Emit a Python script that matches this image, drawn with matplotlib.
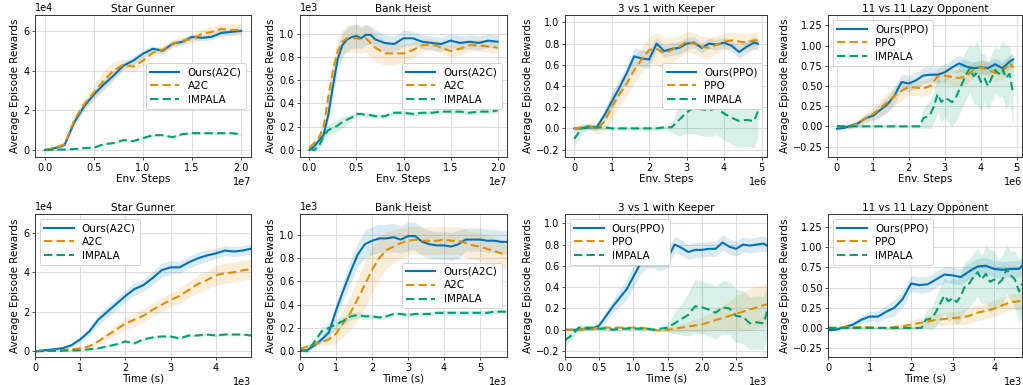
import numpy as np
import matplotlib.pyplot as plt
from matplotlib.ticker import MultipleLocator

# colours (seaborn colorblind)
C_OURS = '#0173b2'
C_BASE = '#de8f05'
C_IMP = '#029e73'

# ---------------- Row 1: Env. steps ----------------
# Star Gunner (x in 1e7, y in 1e4)
sg_x = [0, .1, .2, .3, .4, .5, .6, .7, .8, .9, 1.0, 1.1, 1.2, 1.3, 1.4, 1.5, 1.6, 1.7, 1.8, 1.9, 2.0]
sg_ours = [0.0, 0.1, 0.25, 1.4, 2.2, 2.8, 3.3, 3.75, 4.25, 4.5, 4.85, 5.1, 5.0, 5.35, 5.45, 5.7, 5.65, 5.7, 5.9, 5.95, 6.0]
sg_ours_sd = [.05, .05, .1, .15, .2, .2, .25, .2, .2, .2, .2, .15, .15, .15, .15, .15, .15, .15, .15, .15, .15]
sg_a2c = [0.0, 0.1, 0.3, 1.5, 2.3, 2.9, 3.5, 4.0, 4.3, 4.2, 4.5, 4.9, 5.05, 5.35, 5.5, 5.6, 5.85, 5.95, 6.1, 6.05, 6.05]
sg_a2c_sd = [.05, .05, .1, .2, .3, .4, .5, .45, .3, .3, .25, .2, .2, .2, .2, .2, .25, .25, .3, .3, .3]
sg_imp = [0, 0.02, 0.03, 0.05, 0.1, 0.12, 0.3, 0.35, 0.5, 0.45, 0.6, 0.75, 0.75, 0.65, 0.8, 0.85, 0.85, 0.85, 0.85, 0.85, 0.8]
sg_imp_sd = [.03, .03, .03, .03, .04, .04, .05, .05, .06, .06, .06, .06, .06, .06, .06, .06, .06, .06, .06, .06, .06]

# Bank Heist (x in 1e7, y in 1e3)
bh_x = [0, .05, .1, .15, .2, .25, .3, .35, .4, .45, .5, .55, .6, .65, .7, .8, .9, 1.0, 1.1, 1.2, 1.3, 1.4, 1.5, 1.6, 1.7, 1.8, 1.9, 2.0]
bh_ours = [0.0, 0.03, 0.08, 0.13, 0.3, 0.55, 0.78, 0.9, 0.95, 0.97, 0.98, 0.96, 0.99, 0.99, 0.95, 0.92, 0.91, 0.96, 0.96, 0.93, 0.92, 0.91, 0.94, 0.92, 0.93, 0.92, 0.94, 0.93]
bh_ours_sd = [.01, .02, .03, .04, .06, .08, .1, .1, .1, .1, .1, .09, .09, .08, .08, .07, .07, .07, .06, .06, .06, .06, .06, .06, .06, .06, .06, .06]
bh_a2c = [0.02, 0.06, 0.1, 0.2, 0.45, 0.68, 0.85, 0.93, 0.96, 0.96, 0.96, 0.95, 0.96, 0.92, 0.88, 0.83, 0.83, 0.83, 0.86, 0.9, 0.91, 0.88, 0.85, 0.87, 0.9, 0.9, 0.89, 0.88]
bh_a2c_sd = [.01, .02, .04, .06, .08, .1, .1, .1, .12, .12, .12, .12, .12, .12, .12, .1, .1, .08, .07, .06, .05, .05, .05, .05, .05, .05, .05, .05]
bh_imp = [0.01, 0.0, 0.03, 0.12, 0.17, 0.19, 0.21, 0.24, 0.26, 0.28, 0.31, 0.31, 0.3, 0.3, 0.29, 0.29, 0.32, 0.32, 0.31, 0.32, 0.32, 0.33, 0.33, 0.33, 0.32, 0.33, 0.33, 0.34]
bh_imp_sd = [.01, .02, .03, .04, .05, .05, .05, .05, .04, .03, .02, .02, .02, .02, .02, .02, .02, .02, .02, .02, .02, .02, .02, .02, .02, .02, .02, .02]

# 3 vs 1 with Keeper (x in 1e6)
k3_x = [0, .2, .4, .6, .8, 1.0, 1.2, 1.4, 1.6, 1.8, 2.0, 2.2, 2.4, 2.6, 2.8, 3.0, 3.2, 3.4, 3.6, 3.8, 4.0, 4.2, 4.4, 4.6, 4.8, 4.9]
k3_ours = [0.0, 0.0, 0.01, 0.01, 0.12, 0.25, 0.38, 0.52, 0.68, 0.66, 0.65, 0.8, 0.73, 0.75, 0.76, 0.8, 0.81, 0.76, 0.8, 0.79, 0.81, 0.78, 0.72, 0.77, 0.81, 0.8]
k3_ours_sd = [.01, .01, .02, .03, .06, .08, .08, .08, .08, .08, .08, .06, .06, .06, .06, .06, .05, .05, .05, .05, .05, .05, .06, .06, .06, .06]
k3_ppo = [0.0, 0.01, 0.02, 0.0, 0.06, 0.2, 0.32, 0.42, 0.55, 0.65, 0.74, 0.75, 0.71, 0.74, 0.77, 0.82, 0.8, 0.77, 0.76, 0.79, 0.82, 0.83, 0.82, 0.81, 0.83, 0.83]
k3_ppo_sd = [.02, .03, .03, .05, .1, .12, .12, .12, .12, .12, .12, .15, .15, .12, .1, .1, .1, .1, .1, .08, .08, .08, .08, .08, .08, .08]
k3_imp = [-0.1, 0.0, 0.02, 0.01, 0.01, 0.0, 0.0, 0.0, 0.0, 0.0, 0.0, 0.0, 0.01, 0.01, 0.08, 0.15, 0.2, 0.18, 0.17, 0.19, 0.14, 0.1, 0.07, 0.08, 0.07, 0.16]
k3_imp_sd = [.08, .04, .03, .02, .02, .02, .02, .02, .02, .02, .02, .02, .02, .05, .15, .2, .25, .25, .25, .25, .25, .25, .25, .25, .25, .25]

# 11 vs 11 Lazy Opponent (x in 1e6)
lz_x = [0, .2, .4, .6, .8, 1.0, 1.2, 1.4, 1.6, 1.8, 2.0, 2.2, 2.4, 2.6, 2.8, 3.0, 3.2, 3.4, 3.6, 3.8, 4.0, 4.2, 4.4, 4.6, 4.8, 4.9]
lz_ours = [-0.03, -0.02, 0.01, 0.04, 0.1, 0.13, 0.2, 0.27, 0.38, 0.55, 0.53, 0.57, 0.63, 0.64, 0.64, 0.67, 0.73, 0.78, 0.74, 0.72, 0.73, 0.72, 0.77, 0.72, 0.8, 0.83]
lz_ours_sd = [.02, .02, .03, .04, .05, .06, .08, .1, .1, .1, .1, .1, .1, .1, .1, .1, .1, .1, .08, .08, .08, .08, .08, .08, .08, .08]
lz_ppo = [0.0, 0.0, 0.0, 0.04, 0.1, 0.15, 0.22, 0.3, 0.38, 0.44, 0.49, 0.48, 0.47, 0.5, 0.62, 0.63, 0.61, 0.6, 0.62, 0.7, 0.73, 0.7, 0.66, 0.68, 0.78, 0.73]
lz_ppo_sd = [.02, .02, .03, .04, .06, .08, .1, .12, .12, .12, .1, .1, .1, .1, .1, .1, .1, .1, .1, .1, .1, .1, .1, .1, .1, .1]
lz_imp_x = [0, 2.3, 2.4, 2.5, 2.6, 2.7, 2.8, 2.9, 3.0, 3.1, 3.2, 3.3, 3.4, 3.5, 3.6, 3.7, 3.8, 3.9, 4.0, 4.1, 4.2, 4.3, 4.4, 4.5, 4.6, 4.7, 4.8, 4.9]
lz_imp = [0.0, 0.0, 0.1, 0.12, 0.15, 0.25, 0.4, 0.3, 0.35, 0.33, 0.3, 0.35, 0.45, 0.55, 0.65, 0.72, 0.62, 0.67, 0.55, 0.6, 0.5, 0.6, 0.7, 0.65, 0.72, 0.6, 0.65, 0.4]
lz_imp_sd = [.02, .02, .12, .15, .18, .2, .22, .25, .25, .28, .3, .3, .3, .3, .3, .3, .35, .4, .35, .3, .3, .3, .3, .3, .35, .4, .35, .4]

# ---------------- Row 2: wall-clock time (x in 1e3 s) ----------------
sgt_x = [0, .2, .4, .6, .8, 1.0, 1.2, 1.4, 1.6, 1.8, 2.0, 2.2, 2.4, 2.6, 2.8, 3.0, 3.2, 3.4, 3.6, 3.8, 4.0, 4.2, 4.4, 4.6, 4.78]
sgt_ours = [0.0, 0.05, 0.1, 0.15, 0.3, 0.6, 1.0, 1.6, 2.0, 2.4, 2.8, 3.15, 3.35, 3.7, 4.1, 4.25, 4.25, 4.5, 4.7, 4.85, 4.95, 5.1, 5.05, 5.1, 5.2]
sgt_ours_sd = [.02, .03, .05, .05, .1, .15, .2, .25, .3, .3, .3, .3, .3, .35, .35, .35, .3, .3, .3, .3, .25, .25, .25, .25, .25]
sgt_a2c = [0, 0.02, 0.04, 0.06, 0.1, 0.15, 0.25, 0.5, 0.8, 1.1, 1.4, 1.6, 1.8, 2.1, 2.35, 2.6, 2.8, 3.1, 3.4, 3.6, 3.85, 3.95, 4.0, 4.1, 4.15]
sgt_a2c_sd = [.02, .02, .03, .03, .05, .07, .1, .15, .2, .25, .3, .35, .35, .35, .35, .35, .4, .4, .45, .45, .5, .5, .5, .5, .5]
sgt_imp = [0, 0.01, 0.02, 0.03, 0.04, 0.05, 0.1, 0.15, 0.25, 0.35, 0.5, 0.4, 0.6, 0.7, 0.75, 0.75, 0.65, 0.8, 0.8, 0.85, 0.8, 0.85, 0.85, 0.85, 0.8]
sgt_imp_sd = [.03, .03, .03, .03, .03, .03, .04, .04, .05, .05, .06, .06, .06, .06, .06, .06, .06, .06, .06, .06, .06, .06, .06, .06, .06]

bht_x = [0, .2, .4, .6, .8, 1.0, 1.2, 1.4, 1.6, 1.8, 2.0, 2.2, 2.4, 2.6, 2.8, 3.0, 3.2, 3.4, 3.6, 3.8, 4.0, 4.2, 4.4, 4.6, 4.8, 5.0, 5.2, 5.4, 5.6, 5.75]
bht_ours = [0.0, 0.01, 0.05, 0.1, 0.16, 0.35, 0.52, 0.68, 0.83, 0.92, 0.95, 0.97, 0.97, 0.98, 0.96, 0.99, 0.99, 0.94, 0.92, 0.91, 0.91, 0.9, 0.92, 0.96, 0.96, 0.96, 0.95, 0.95, 0.94, 0.94]
bht_ours_sd = [.01, .01, .02, .03, .05, .06, .08, .1, .1, .12, .12, .12, .12, .12, .12, .12, .12, .12, .12, .12, .12, .12, .12, .1, .1, .1, .1, .1, .1, .1]
bht_a2c = [0.02, 0.04, 0.06, 0.08, 0.1, 0.15, 0.24, 0.33, 0.45, 0.57, 0.7, 0.8, 0.87, 0.9, 0.93, 0.95, 0.96, 0.95, 0.95, 0.95, 0.96, 0.95, 0.95, 0.93, 0.91, 0.9, 0.88, 0.86, 0.84, 0.83]
bht_a2c_sd = [.01, .02, .02, .03, .05, .08, .12, .15, .18, .2, .2, .18, .16, .14, .13, .12, .12, .12, .12, .12, .12, .12, .12, .12, .12, .12, .12, .12, .12, .12]
bht_imp = [0.01, 0.0, 0.08, 0.17, 0.2, 0.23, 0.26, 0.3, 0.31, 0.3, 0.3, 0.29, 0.3, 0.32, 0.32, 0.31, 0.32, 0.32, 0.32, 0.33, 0.33, 0.33, 0.33, 0.33, 0.33, 0.33, 0.33, 0.34, 0.34, 0.34]
bht_imp_sd = [.01, .02, .03, .04, .05, .05, .04, .03, .03, .03, .02, .02, .02, .02, .02, .02, .02, .02, .02, .02, .02, .02, .02, .02, .02, .02, .02, .02, .02, .02]

k3t_x = [0, .1, .2, .3, .4, .5, .6, .7, .8, .9, 1.0, 1.1, 1.2, 1.3, 1.4, 1.5, 1.6, 1.7, 1.8, 1.9, 2.0, 2.1, 2.2, 2.3, 2.4, 2.5, 2.6, 2.7, 2.8, 2.9, 2.95]
k3t_ours = [0.0, 0.0, 0.0, 0.01, 0.01, 0.04, 0.13, 0.22, 0.3, 0.38, 0.5, 0.62, 0.68, 0.68, 0.63, 0.67, 0.8, 0.77, 0.73, 0.75, 0.75, 0.76, 0.76, 0.82, 0.78, 0.76, 0.8, 0.79, 0.8, 0.81, 0.79]
k3t_ours_sd = [.01, .01, .02, .02, .02, .03, .05, .06, .08, .1, .1, .1, .1, .1, .08, .08, .08, .07, .07, .07, .07, .07, .07, .07, .07, .07, .07, .07, .07, .07, .07]
k3t_ppo = [0.0, 0.0, 0.0, 0.01, 0.01, 0.02, 0.02, 0.02, 0.02, 0.02, 0.02, 0.02, 0.01, 0.0, -0.01, 0.0, 0.01, 0.02, 0.03, 0.04, 0.05, 0.07, 0.09, 0.11, 0.13, 0.15, 0.17, 0.19, 0.21, 0.23, 0.24]
k3t_ppo_sd = [.01, .01, .01, .01, .01, .01, .01, .01, .01, .01, .01, .01, .01, .01, .01, .02, .03, .04, .05, .06, .07, .08, .1, .12, .14, .16, .18, .2, .2, .2, .2]
k3t_imp = [-0.1, -0.05, 0.02, 0.02, 0.02, 0.01, 0.01, 0.0, 0.01, 0.01, 0.01, 0.01, 0.01, 0.0, 0.01, 0.02, 0.06, 0.1, 0.14, 0.22, 0.21, 0.19, 0.16, 0.21, 0.2, 0.13, 0.12, 0.06, 0.07, 0.06, 0.17]
k3t_imp_sd = [.06, .04, .02, .02, .02, .02, .02, .02, .02, .02, .02, .02, .02, .02, .02, .04, .1, .15, .2, .25, .25, .25, .25, .25, .25, .25, .25, .25, .25, .25, .25]

lzt_x = [0, .2, .4, .6, .8, 1.0, 1.2, 1.4, 1.6, 1.8, 2.0, 2.2, 2.4, 2.6, 2.8, 3.0, 3.2, 3.4, 3.6, 3.8, 4.0, 4.2, 4.4, 4.6, 4.67]
lzt_ours = [-0.03, -0.02, 0.01, 0.04, 0.1, 0.14, 0.14, 0.2, 0.25, 0.36, 0.55, 0.53, 0.54, 0.6, 0.66, 0.65, 0.63, 0.7, 0.76, 0.77, 0.73, 0.72, 0.73, 0.73, 0.77]
lzt_ours_sd = [.02, .02, .03, .04, .05, .06, .07, .08, .1, .1, .1, .1, .1, .1, .1, .1, .1, .1, .1, .1, .1, .1, .1, .1, .1]
lzt_ppo = [0.0, 0.0, 0.01, 0.01, 0.01, 0.01, 0.0, 0.0, 0.01, 0.02, 0.04, 0.06, 0.08, 0.1, 0.11, 0.12, 0.13, 0.15, 0.19, 0.21, 0.24, 0.28, 0.32, 0.33, 0.33]
lzt_ppo_sd = [.01, .01, .01, .01, .01, .01, .01, .02, .03, .04, .05, .06, .07, .08, .08, .08, .09, .1, .1, .1, .1, .1, .1, .1, .1]
lzt_imp_x = [0, 2.25, 2.35, 2.5, 2.6, 2.7, 2.8, 2.9, 3.0, 3.1, 3.2, 3.3, 3.4, 3.5, 3.6, 3.7, 3.8, 3.9, 4.0, 4.1, 4.2, 4.3, 4.4, 4.5, 4.6, 4.67]
lzt_imp = [0.0, 0.0, 0.1, 0.12, 0.2, 0.3, 0.4, 0.33, 0.37, 0.32, 0.4, 0.52, 0.55, 0.63, 0.69, 0.6, 0.67, 0.57, 0.6, 0.55, 0.6, 0.73, 0.65, 0.6, 0.45, 0.55]
lzt_imp_sd = [.02, .02, .1, .15, .18, .2, .22, .25, .25, .28, .3, .3, .3, .3, .3, .3, .35, .4, .35, .3, .3, .3, .3, .35, .4, .4]


def curve(ax, x, y, sd, xs, ys, color, ls, label):
    x = np.array(x) * xs
    y = np.array(y) * ys
    sd = np.array(sd) * ys
    ax.fill_between(x, y - sd, y + sd, color=color, alpha=0.15, lw=0)
    if ls == '--':
        ax.plot(x, y, color=color, lw=1.5, label=label, dashes=(4, 2))
    else:
        ax.plot(x, y, color=color, lw=1.5, label=label)


def style(ax, title, xlabel):
    ax.set_title(title, fontsize=7.5, pad=2)
    ax.set_xlabel(xlabel, fontsize=7.5, labelpad=1)
    ax.set_ylabel('Average Episode Rewards', fontsize=7.5, labelpad=2)
    ax.grid(True, color='#dddddd', lw=0.8)
    ax.set_axisbelow(True)
    ax.tick_params(labelsize=7, length=2.5, width=0.6, pad=1.5, color='0.2')
    ax.ticklabel_format(style='sci', scilimits=(0, 0), useMathText=False)
    ax.xaxis.get_offset_text().set_fontsize(7)
    ax.yaxis.get_offset_text().set_fontsize(7)
    for s in ax.spines.values():
        s.set_color('0.2')
        s.set_linewidth(0.7)


fig = plt.figure(figsize=(10.23, 3.85), dpi=100)
W, H = 1023.0, 385.0
cols = [(35, 251), (300, 507), (565, 767), (828, 1022)]
rows = [(15, 157), (214, 357)]

def mk(r, c):
    (l, rr), (t, b) = cols[c], rows[r]
    return fig.add_axes([l / W, 1 - b / H, (rr - l) / W, (b - t) / H])

panels = [
    (0, 0, 'Star Gunner', 'Env. Steps', sg_x, None, 1e7, 1e4, 'A2C',
     (sg_ours, sg_ours_sd), (sg_a2c, sg_a2c_sd), (sg_imp, sg_imp_sd), 'center right', (-0.35, 6.8), None),
    (0, 1, 'Bank Heist', 'Env. Steps', bh_x, None, 1e7, 1e3, 'A2C',
     (bh_ours, bh_ours_sd), (bh_a2c, bh_a2c_sd), (bh_imp, bh_imp_sd), 'center right', (-0.06, 1.16), None),
    (0, 2, '3 vs 1 with Keeper', 'Env. Steps', k3_x, None, 1e6, 1, 'PPO',
     (k3_ours, k3_ours_sd), (k3_ppo, k3_ppo_sd), (k3_imp, k3_imp_sd), 'center right', (-0.27, 1.07), None),
    (0, 3, '11 vs 11 Lazy Opponent', 'Env. Steps', lz_x, lz_imp_x, 1e6, 1, 'PPO',
     (lz_ours, lz_ours_sd), (lz_ppo, lz_ppo_sd), (lz_imp, lz_imp_sd), 'upper left', (-0.38, 1.38), None),
    (1, 0, 'Star Gunner', 'Time (s)', sgt_x, None, 1e3, 1e4, 'A2C',
     (sgt_ours, sgt_ours_sd), (sgt_a2c, sgt_a2c_sd), (sgt_imp, sgt_imp_sd), 'upper left', (-0.29, 6.95), 4.78),
    (1, 1, 'Bank Heist', 'Time (s)', bht_x, None, 1e3, 1e3, 'A2C',
     (bht_ours, bht_ours_sd), (bht_a2c, bht_a2c_sd), (bht_imp, bht_imp_sd), 'center right', (-0.05, 1.18), 5.75),
    (1, 2, '3 vs 1 with Keeper', 'Time (s)', k3t_x, None, 1e3, 1, 'PPO',
     (k3t_ours, k3t_ours_sd), (k3t_ppo, k3t_ppo_sd), (k3t_imp, k3t_imp_sd), 'upper left', (-0.256, 1.087), 2.95),
    (1, 3, '11 vs 11 Lazy Opponent', 'Time (s)', lzt_x, lzt_imp_x, 1e3, 1, 'PPO',
     (lzt_ours, lzt_ours_sd), (lzt_ppo, lzt_ppo_sd), (lzt_imp, lzt_imp_sd), 'upper left', (-0.36, 1.41), 4.67),
]

for (r, c, title, xlabel, x, ximp, xs, ys, base, ours, bl, imp, loc, ylim, xmax) in panels:
    ax = mk(r, c)
    curve(ax, x, ours[0], ours[1], xs, ys, C_OURS, '-', 'Ours(%s)' % base)
    curve(ax, x, bl[0], bl[1], xs, ys, C_BASE, '--', base)
    curve(ax, ximp if ximp is not None else x, imp[0], imp[1], xs, ys, C_IMP, '--', 'IMPALA')
    ax.set_ylim(ylim[0] * ys, ylim[1] * ys)
    if xmax is not None:
        ax.set_xlim(0, xmax * xs)
    if c == 3:
        ax.yaxis.set_major_locator(MultipleLocator(0.25))
    style(ax, title, xlabel)
    leg = ax.legend(loc=loc, fontsize=7.5, handlelength=2.8, borderpad=0.4,
                    labelspacing=0.35, handletextpad=0.8, framealpha=1)
    leg.get_frame().set_edgecolor('#cccccc')
    leg.get_frame().set_linewidth(0.6)

fig.savefig('out.png', dpi=100)
